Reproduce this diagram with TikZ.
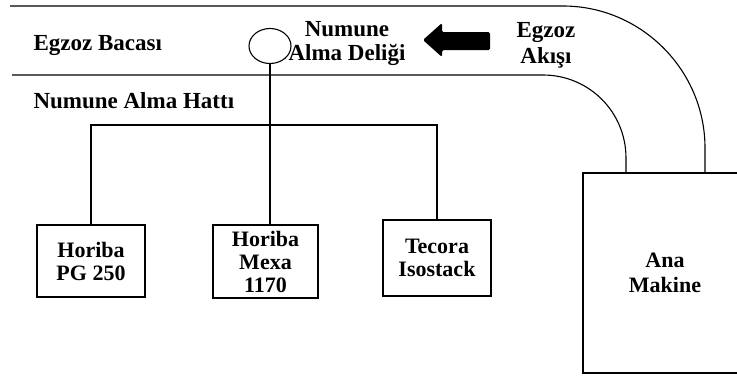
\documentclass[tikz,border=0pt]{standalone}
\usepackage{fontspec}
\setmainfont{Liberation Serif}
\usetikzlibrary{shapes.geometric}
\begin{document}
\begin{tikzpicture}[x=1pt,y=-1pt, line width=1.1pt,
  lbl/.style={font=\bfseries\fontsize{23}{24}\selectfont, align=center, inner sep=0},
  dev/.style={draw, font=\bfseries\fontsize{22}{23}\selectfont, align=center, inner sep=0},
  pipe/.style={draw, line width=1.1pt},
]
\clip (0,0) rectangle (737,376);
% devices
\node[dev, minimum width=108, minimum height=72] (pg) at (91,261) {Horiba\\PG 250};
\node[dev, minimum width=105, minimum height=73] (mexa) at (265.5,261.5) {Horiba\\Mexa\\1170};
\node[dev, minimum width=108, minimum height=76] (tec) at (437,258) {Tecora\\Isostack};
\node[dev, minimum width=164, minimum height=200] (ana) at (665,273) {Ana\\[2pt]Makine};
% sampling hole
\node[ellipse, draw, minimum width=42, minimum height=35, inner sep=0] (hole) at (270,46) {};
% labels
\node[lbl, anchor=base west] (baca) at (33,50) {Egzoz Bacası};
\node[lbl, anchor=base west] (hat) at (33,108) {Numune Alma Hattı};
\node[lbl] (delik) at (347,44) {Numune\\Alma Deliği};
\node[lbl] (akis) at (546,45) {Egzoz\\[2pt]Akışı};
% flow arrow
\fill[rounded corners=1.5pt] (423,40) -- (442,23) -- (442,32) -- (490,32) -- (490,50) -- (442,50) -- (442,57) -- cycle;
% exhaust pipe
\coordinate (o1) at (10,6);
\coordinate (o2) at (563,6);
\coordinate (o3) at (705,148);
\coordinate (i1) at (12,75);
\coordinate (i2) at (543,75);
\coordinate (i3) at (626,158);
\draw[pipe] (o1) -- (o2) .. controls (641,6) and (705,70) .. (o3) -- (o3 |- ana.north);
\draw[pipe] (i1) -- (i2) .. controls (589,75) and (626,112) .. (i3) -- (i3 |- ana.north);
% sampling line
\coordinate (b1) at (pg.north |- 0,125);
\coordinate (b2) at (tec.north |- 0,125);
\draw (hole.south) -- (hole.south |- mexa.north);
\draw (pg.north) -- (b1) -- (b2) -- (tec.north);
\end{tikzpicture}
\end{document}
